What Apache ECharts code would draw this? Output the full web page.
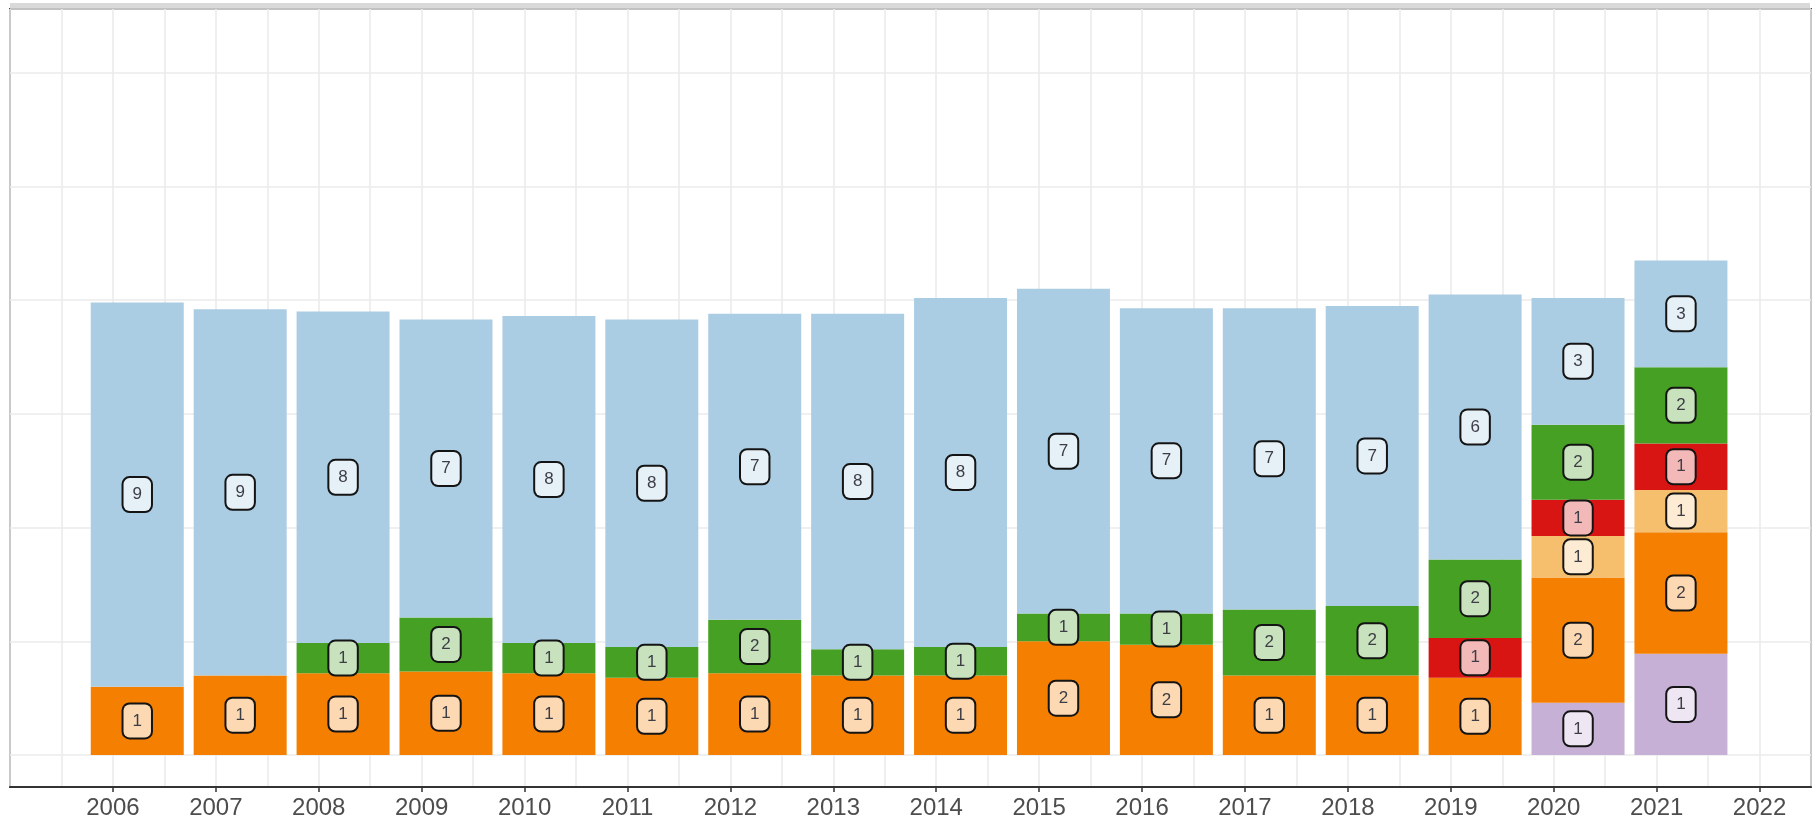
<!DOCTYPE html>
<html>
<head>
<meta charset="utf-8">
<title>stacked bars</title>
<script src="https://cdn.jsdelivr.net/npm/echarts@6/dist/echarts.min.js"></script>
<style>
  html, body { margin: 0; padding: 0; background: #fff; }
  #chart { width: 1814px; height: 825px; }
</style>
</head>
<body>
<div id="chart"></div>
<script>
// years on the x axis
var years = ['2006', '2007', '2008', '2009', '2010', '2011', '2012', '2013', '2014', '2015', '2016', '2017', '2018', '2019', '2020', '2021'];

// segment heights, bottom to top
var purpleVals = [0, 0, 0, 0, 0, 0, 0, 0, 0, 0, 0, 0, 0, 0, 0.46, 0.89];
var orangeVals = [0.60, 0.70, 0.72, 0.735, 0.72, 0.68, 0.72, 0.70, 0.70, 1.00, 0.97, 0.70, 0.70, 0.68, 1.10, 1.07];
var lightOrangeVals = [0, 0, 0, 0, 0, 0, 0, 0, 0, 0, 0, 0, 0, 0, 0.365, 0.37];
var redVals = [0, 0, 0, 0, 0, 0, 0, 0, 0, 0, 0, 0, 0, 0.35, 0.32, 0.41];
var greenVals = [0, 0, 0.265, 0.475, 0.265, 0.27, 0.47, 0.23, 0.25, 0.245, 0.275, 0.58, 0.61, 0.69, 0.66, 0.67];
var blueVals = [3.38, 3.22, 2.915, 2.62, 2.875, 2.88, 2.69, 2.95, 3.07, 2.855, 2.685, 2.65, 2.64, 2.33, 1.115, 0.94];

// numbers printed in the boxes
var purpleCounts = [0, 0, 0, 0, 0, 0, 0, 0, 0, 0, 0, 0, 0, 0, 1, 1];
var orangeCounts = [1, 1, 1, 1, 1, 1, 1, 1, 1, 2, 2, 1, 1, 1, 2, 2];
var lightOrangeCounts = [0, 0, 0, 0, 0, 0, 0, 0, 0, 0, 0, 0, 0, 0, 1, 1];
var redCounts = [0, 0, 0, 0, 0, 0, 0, 0, 0, 0, 0, 0, 0, 1, 1, 1];
var greenCounts = [0, 0, 1, 2, 1, 1, 2, 1, 1, 1, 1, 2, 2, 2, 2, 2];
var blueCounts = [9, 9, 8, 7, 8, 8, 7, 8, 8, 7, 7, 7, 7, 6, 3, 3];

var fontName = "'Liberation Sans', Arial, sans-serif";

function makeSeries(name, vals, counts, color, boxFill) {
  var data = [];
  for (var i = 0; i < vals.length; i++) {
    data.push({
      value: vals[i],
      label: { show: counts[i] > 0 }
    });
  }
  return {
    name: name,
    type: 'bar',
    xAxisIndex: 1,
    yAxisIndex: 1,
    stack: 'total',
    barWidth: 93,
    itemStyle: { color: color },
    label: {
      show: true,
      position: 'inside',
      formatter: function (p) {
        return String(counts[p.dataIndex]);
      },
      fontFamily: fontName,
      fontSize: 17,
      lineHeight: 17,
      color: '#3d3d45',
      backgroundColor: boxFill,
      borderColor: '#141414',
      borderWidth: 2,
      borderRadius: 6,
      padding: [8, 9, 8, 9]
    },
    emphasis: { disabled: true },
    data: data
  };
}

var chartDom = document.getElementById('chart');
var myChart = echarts.init(chartDom, null, { renderer: 'canvas' });

var option = {
  backgroundColor: '#ffffff',
  animation: false,
  graphic: [{
    type: 'rect',
    left: 10,
    top: 3,
    shape: { width: 1800, height: 5 },
    style: { fill: '#d9d9d9' },
    z: 0
  }],
  grid: [
    // outer frame, year axis and vertical grid lines
    { left: 10, right: 3, top: 9, bottom: 38, show: true, borderColor: '#444', borderWidth: 2, backgroundColor: '#fff' },
    // bar area: bands sit a quarter year right of the ticks, zero line above the axis
    { left: 85.8, right: 81.6, top: 9, bottom: 70 },
    // horizontal grid lines across the full frame width
    { left: 10, right: 3, top: 9, bottom: 70 }
  ],
  xAxis: [{
    gridIndex: 0,
    type: 'value',
    min: 2005,
    max: 2022.5,
    interval: 1,
    axisLine: { show: true, lineStyle: { color: '#333', width: 2 } },
    axisTick: { show: true, length: 5, lineStyle: { color: '#333', width: 1.5 } },
    axisLabel: {
      show: true,
      margin: 9,
      fontSize: 24,
      fontFamily: fontName,
      color: '#4d4d4d',
      showMinLabel: false,
      showMaxLabel: false,
      formatter: function (v) {
        return Math.abs(v - Math.round(v)) < 1e-6 ? String(Math.round(v)) : '';
      }
    },
    splitLine: { show: true, lineStyle: { color: '#ebebeb', width: 1.6 } },
    minorTick: { show: false, splitNumber: 2 },
    minorSplitLine: { show: true, lineStyle: { color: '#ebebeb', width: 1.6 } }
  }, {
    gridIndex: 1,
    type: 'category',
    data: years,
    show: false
  }, {
    gridIndex: 2,
    type: 'value',
    min: 0,
    max: 1,
    show: false
  }],
  yAxis: [{
    gridIndex: 0,
    type: 'value',
    min: 0,
    max: 1,
    show: false,
    splitLine: { show: false }
  }, {
    gridIndex: 1,
    type: 'value',
    min: 0,
    max: 6.561,
    interval: 1,
    show: false
  }, {
    gridIndex: 2,
    type: 'value',
    min: 0,
    max: 6.561,
    interval: 1,
    axisLine: { show: false },
    axisTick: { show: false },
    axisLabel: { show: false },
    splitLine: { show: true, lineStyle: { color: '#ebebeb', width: 1.6 } }
  }],
  series: [
    makeSeries('purple', purpleVals, purpleCounts, '#c6b0d6', '#eee7f3'),
    makeSeries('orange', orangeVals, orangeCounts, '#f57f00', '#fcd9b3'),
    makeSeries('lightorange', lightOrangeVals, lightOrangeCounts, '#f6bf6e', '#fdebd3'),
    makeSeries('red', redVals, redCounts, '#d81512', '#f3b9b8'),
    makeSeries('green', greenVals, greenCounts, '#45a023', '#c7e2bd'),
    makeSeries('blue', blueVals, blueCounts, '#abcde3', '#e6f0f7')
  ]
};

option && myChart.setOption(option);
</script>
</body>
</html>
